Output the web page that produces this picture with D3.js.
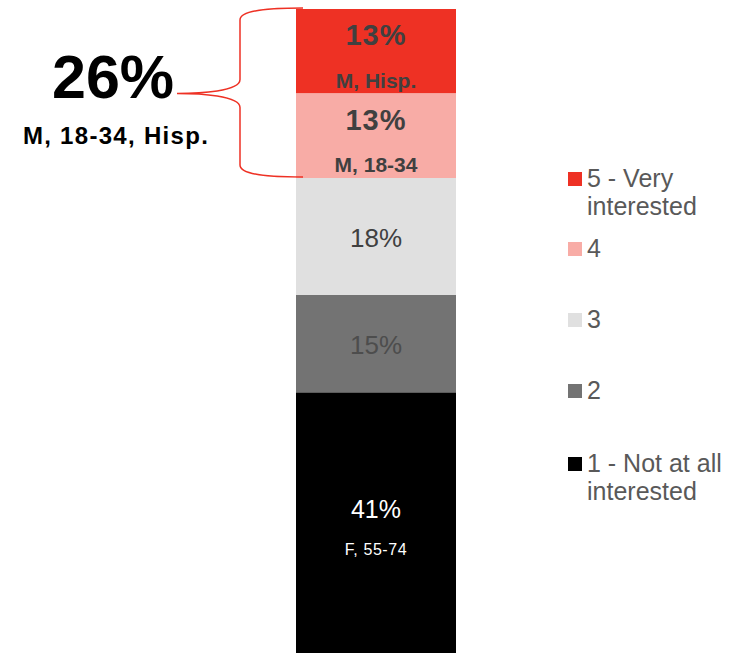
<!DOCTYPE html>
<html>
<head>
<meta charset="UTF-8">
<title></title>
<style>
body { margin: 0; background: #fff; }
text { font-family: "Liberation Sans", Arial, sans-serif; }
</style>
</head>
<body>
<script src="https://d3js.org/d3.v7.min.js"></script>
<script>
var width = 750, height = 653;

// data, top segment first
var categories = ["5 - Very interested", "4", "3", "2", "1 - Not at all interested"];
var legendLines = [["5 - Very", "interested"], ["4"], ["3"], ["2"], ["1 - Not at all", "interested"]];
var values = [13, 13, 18, 15, 41];
var valueLabels = ["13%", "13%", "18%", "15%", "41%"];
var subLabels = ["M, Hisp.", "M, 18-34", "", "", "F, 55-74"];
var colors = ["#EE3124", "#F8ACA6", "#E0E0E0", "#737373", "#000000"];
var calloutValue = "26%";
var calloutLabel = "M, 18-34, Hisp.";

var svg = d3.select("body").append("svg")
  .attr("width", width)
  .attr("height", height);

var y = d3.scaleLinear().domain([0, 100]).range([9, 659]);
var x = d3.scaleBand().domain(["all"]).range([296, 456]).padding(0);

// cumulative from top
var acc = 0;
var segs = values.map(function(v, i) {
  var s = { i: i, y0: acc, y1: acc + v, v: v };
  acc += v;
  return s;
});

var bars = svg.selectAll(".seg").data(segs).enter().append("g").attr("class", "seg");

bars.append("rect")
  .attr("x", x("all"))
  .attr("width", x.bandwidth())
  .attr("y", function(d) { return y(d.y0); })
  .attr("height", function(d) { return y(d.y1) - y(d.y0); })
  .attr("fill", function(d) { return colors[d.i]; });

var cx = x("all") + x.bandwidth() / 2;

// labels on the bar
bars.each(function(d) {
  var g = d3.select(this);
  var top = y(d.y0), bot = y(d.y1), mid = (top + bot) / 2;
  if (d.i < 2) {
    g.append("text").attr("x", cx).attr("y", top + 36)
      .attr("text-anchor", "middle").attr("font-size", 29).attr("font-weight", "bold")
      .attr("letter-spacing", 1)
      .attr("fill", "#404040").text(valueLabels[d.i]);
    g.append("text").attr("x", cx).attr("y", bot - 6)
      .attr("text-anchor", "middle").attr("font-size", 21).attr("font-weight", "bold")
      .attr("fill", "#404040").text(subLabels[d.i]);
  } else if (d.i == 4) {
    g.append("text").attr("x", cx).attr("y", mid - 8)
      .attr("text-anchor", "middle").attr("font-size", 25)
      .attr("fill", "#fff").text(valueLabels[d.i]);
    g.append("text").attr("x", cx).attr("y", mid + 29)
      .attr("text-anchor", "middle").attr("font-size", 16)
      .attr("letter-spacing", 0.6)
      .attr("fill", "#fff").text(subLabels[d.i]);
  } else {
    g.append("text").attr("x", cx).attr("y", mid + 10)
      .attr("text-anchor", "middle").attr("font-size", 26)
      .attr("fill", d.i == 3 ? "#4d4d4d" : "#404040").text(valueLabels[d.i]);
  }
});

// bracket around top two segments
var bTop = y(0) - 1, bMid = y(values[0]), bBot = y(values[0] + values[1]) - 1;
var tipX = 177, spineX = 240, endX = 303;
var path = d3.path();
path.moveTo(endX, bTop);
path.bezierCurveTo(270, bTop, spineX, bTop + 2, spineX, bTop + 12);
path.lineTo(spineX, bMid - 14);
path.bezierCurveTo(spineX, bMid - 2, 200, bMid, tipX, bMid);
path.bezierCurveTo(200, bMid, spineX, bMid + 2, spineX, bMid + 14);
path.lineTo(spineX, bBot - 12);
path.bezierCurveTo(spineX, bBot - 2, 270, bBot, endX, bBot);
svg.append("path").attr("d", path.toString())
  .attr("fill", "none").attr("stroke", "#EE3124").attr("stroke-width", 1.5);

svg.append("text").attr("x", 113).attr("y", 98)
  .attr("text-anchor", "middle").attr("font-size", 61).attr("font-weight", "bold")
  .attr("fill", "#000").text(calloutValue);
svg.append("text").attr("x", 116).attr("y", 144)
  .attr("text-anchor", "middle").attr("font-size", 24).attr("font-weight", "bold")
  .attr("letter-spacing", 1.3)
  .attr("fill", "#000").text(calloutLabel);

// legend
var legendY = [187, 257, 328, 399, 472];
var legend = svg.selectAll(".leg").data(categories).enter().append("g").attr("class", "leg");
legend.append("rect")
  .attr("x", 568).attr("width", 14).attr("height", 14)
  .attr("y", function(d, i) { return legendY[i] - 15; })
  .attr("fill", function(d, i) { return colors[i]; });
legend.each(function(d, i) {
  var t = d3.select(this).append("text")
    .attr("x", 587).attr("y", legendY[i])
    .attr("font-size", 25).attr("fill", "#595959");
  legendLines[i].forEach(function(line, k) {
    t.append("tspan").attr("x", 587).attr("dy", k == 0 ? 0 : 28).text(line);
  });
});
</script>
</body>
</html>
